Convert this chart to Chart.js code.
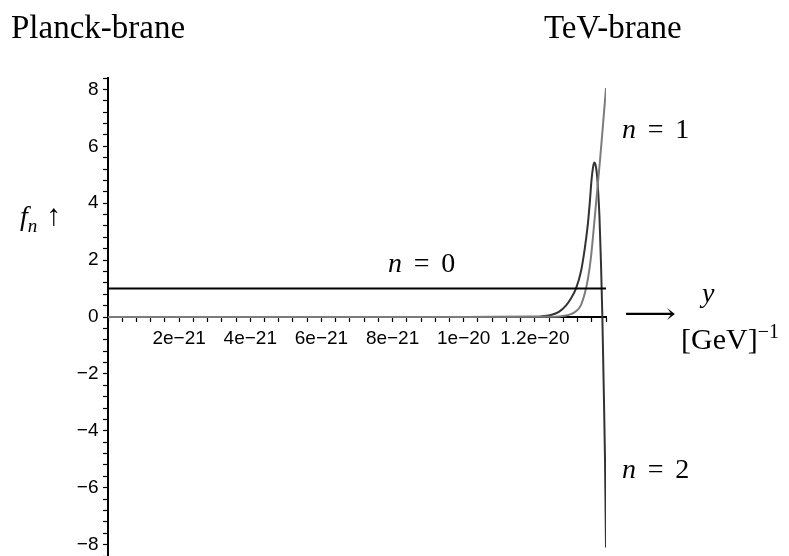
<!DOCTYPE html>
<html>
<head>
<meta charset="utf-8">
<script src="https://cdn.jsdelivr.net/npm/chart.js@4.4.1/dist/chart.umd.min.js"></script>
<style>
  html, body { margin: 0; padding: 0; background: #fff; }
  #wrap { position: relative; width: 789px; height: 556px; overflow: hidden; }
  canvas { position: absolute; left: 0; top: 0; }
  .t { position: absolute; font-family: "Liberation Serif", "DejaVu Serif", serif; color: #000; white-space: nowrap; line-height: 1; }
  .big { font-size: 33px; }
  .m { font-size: 28px; }
  .m i { font-style: italic; }
  .eq { display: inline-block; margin: 0 0.42em; }
</style>
</head>
<body>
<div id="wrap">
  <canvas id="c" width="789" height="556"></canvas>
  <div class="t big" style="left:11px; top:11px;">Planck-brane</div>
  <div class="t big" style="left:544px; top:11px;">TeV-brane</div>
  <div class="t m" style="left:388px; top:249px;"><i>n</i><span class="eq">=</span>0</div>
  <div class="t m" style="left:622px; top:115px;"><i>n</i><span class="eq">=</span>1</div>
  <div class="t m" style="left:622px; top:455px;"><i>n</i><span class="eq">=</span>2</div>
  <div class="t m" style="left:20px; top:200px;"><i>f</i><sub style="font-size:19px;"><i>n</i></sub><span style="font-size:30px; margin-left:9px;">↑</span></div>
  <div class="t m" style="left:624px; top:300px;"><span style="display:inline-block; transform:scaleX(1.3); transform-origin:left center;">⟶</span></div>
  <div class="t m" style="left:702px; top:279px;"><i>y</i></div>
  <div class="t m" style="left:681px; top:321px; font-size:30px;">[GeV]<sup style="font-size:20px;">−1</sup></div>
</div>
<script>
// ---- data (x in GeV^-1, y = f_n) ----
const xMin = 0;
const xMax = 1.4e-20;
const yMin = -8.4;
const yMax = 8.4;

const n0X = [0, 1.4e-20];
const n0Y = [1, 1];

const n1X = [0, 5e-21, 1.0e-20, 1.2e-20, 1.2676e-20, 1.2873e-20, 1.3014e-20, 1.3155e-20, 1.3296e-20, 1.3408e-20, 1.3493e-20, 1.3577e-20, 1.3662e-20, 1.3746e-20, 1.3831e-20, 1.3915e-20, 1.4e-20];
const n1Y = [0, 0, 0.001, 0.005, 0.02, 0.05, 0.1, 0.2, 0.42, 0.85, 1.35, 2.1, 3.2, 4.35, 5.5, 6.75, 8.05];

const n2X = [0, 5e-21, 1.0e-20, 1.2e-20, 1.2169e-20, 1.2451e-20, 1.2676e-20, 1.2873e-20, 1.3014e-20, 1.3155e-20, 1.3296e-20, 1.3408e-20, 1.3493e-20, 1.3549e-20, 1.3592e-20, 1.3634e-20, 1.3670e-20, 1.3704e-20, 1.3746e-20, 1.3775e-20, 1.3817e-20, 1.3859e-20, 1.3896e-20, 1.3930e-20, 1.3972e-20, 1.4e-20];
const n2Y = [0, 0, 0.002, 0.012, 0.02, 0.07, 0.18, 0.4, 0.65, 1.0, 1.6, 2.45, 3.3, 4.1, 4.8, 5.25, 5.43, 5.36, 5.0, 4.5, 3.5, 1.9, 0.1, -2.1, -5.0, -8.1];

const xTickLabels = ["2e\u221221", "4e\u221221", "6e\u221221", "8e\u221221", "1e\u221220", "1.2e\u221220"];
const yTickLabels = ["\u22128", "\u22126", "\u22124", "\u22122", "0", "2", "4", "6", "8"];

function pts(xs, ys) { return xs.map((x, i) => ({ x: x, y: ys[i] })); }

const tickFont = { family: "'Liberation Sans', Arial, sans-serif", size: 19 };

function noPad(scale) {
  scale.paddingLeft = 0; scale.paddingRight = 0; scale.paddingTop = 0; scale.paddingBottom = 0;
}

new Chart(document.getElementById('c'), {
  type: 'line',
  data: {
    datasets: [
      { label: 'n=0', data: pts(n0X, n0Y), borderColor: '#000000', borderWidth: 2, pointRadius: 0, tension: 0 },
      { label: 'n=1', data: pts(n1X, n1Y), borderColor: '#7c7c7c', borderWidth: 2, pointRadius: 0, cubicInterpolationMode: 'monotone' },
      { label: 'n=2', data: pts(n2X, n2Y), borderColor: '#333333', borderWidth: 2, pointRadius: 0, cubicInterpolationMode: 'monotone' }
    ]
  },
  options: {
    responsive: false,
    animation: false,
    layout: { padding: { left: 108, right: 183, top: 78, bottom: 0 } },
    plugins: { legend: { display: false }, tooltip: { enabled: false } },
    scales: {
      x: {
        type: 'linear',
        position: { y: 0 },
        min: xMin, max: xMax,
        afterFit: noPad,
        border: { color: '#000', width: 2 },
        grid: { drawOnChartArea: false, drawTicks: true, tickLength: 4, tickColor: '#000', tickWidth: 1.2 },
        ticks: {
          stepSize: 4e-22, maxTicksLimit: 1000, autoSkip: false, maxRotation: 0, includeBounds: false,
          padding: 6, color: '#000', font: tickFont,
          callback: function (v) {
            const k = Math.round(v / 2e-21);
            if (Math.abs(v / 2e-21 - k) < 1e-6 && k >= 1 && k <= xTickLabels.length) return xTickLabels[k - 1];
            return '';
          }
        }
      },
      y: {
        type: 'linear',
        position: { x: 0 },
        min: yMin, max: yMax,
        afterFit: noPad,
        border: { color: '#000', width: 2 },
        grid: { drawOnChartArea: false, drawTicks: true, tickLength: 4, tickColor: '#000', tickWidth: 1.2 },
        ticks: {
          stepSize: 0.4, maxTicksLimit: 1000, autoSkip: false, includeBounds: false,
          padding: 8, color: '#000', font: tickFont,
          callback: function (v) {
            const k = Math.round(v / 2);
            if (Math.abs(v / 2 - k) < 1e-6 && k >= -4 && k <= 4) return yTickLabels[k + 4] + "\u2002";
            return '';
          }
        }
      }
    }
  }
});
</script>
</body>
</html>
